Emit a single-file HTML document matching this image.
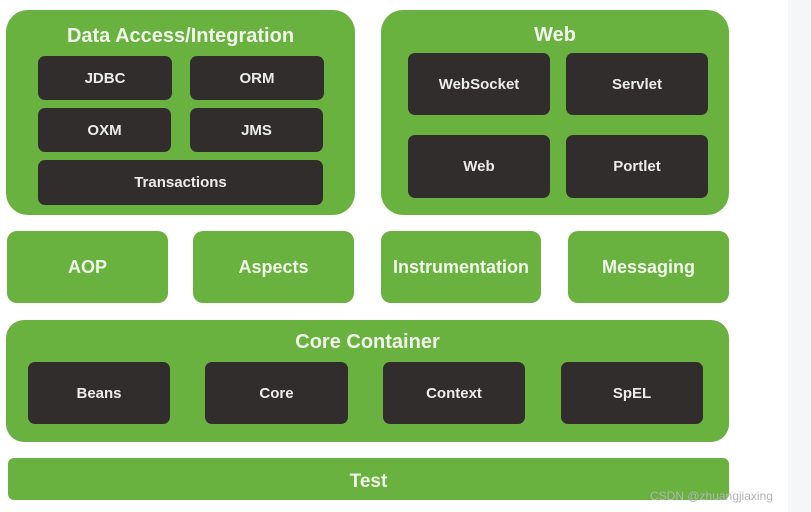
<!DOCTYPE html>
<html><head><style>
body{margin:0;width:811px;height:512px;background:#fff;position:relative;overflow:hidden;font-family:"Liberation Sans",sans-serif;font-weight:bold}
.g{position:absolute;background:#69b23f;border-radius:16px;color:#f0f6ea;display:flex;align-items:center;justify-content:center;font-size:18px}
.d{position:absolute;background:#322d2d;border-radius:7px;color:#ececec;display:flex;align-items:center;justify-content:center;font-size:15px}
.t{position:absolute;color:#f0f6ea;font-size:20px;text-align:center}
</style></head><body>
<div style="position:absolute;left:788px;top:0;width:23px;height:512px;background:#f5f6f8"></div>
<div class="g" style="left:6px;top:10px;width:349px;height:205px;border-radius:22px"></div>
<div class="t" style="left:6px;top:25px;width:349px">Data Access/Integration</div>
<div class="d" style="left:38px;top:56px;width:134px;height:44px">JDBC</div>
<div class="d" style="left:190px;top:56px;width:134px;height:44px">ORM</div>
<div class="d" style="left:38px;top:108px;width:133px;height:44px">OXM</div>
<div class="d" style="left:190px;top:108px;width:133px;height:44px">JMS</div>
<div class="d" style="left:38px;top:160px;width:285px;height:45px">Transactions</div>
<div class="g" style="left:381px;top:10px;width:348px;height:205px;border-radius:22px"></div>
<div class="t" style="left:381px;top:24px;width:348px">Web</div>
<div class="d" style="left:408px;top:53px;width:142px;height:62px">WebSocket</div>
<div class="d" style="left:566px;top:53px;width:142px;height:62px">Servlet</div>
<div class="d" style="left:408px;top:135px;width:142px;height:63px">Web</div>
<div class="d" style="left:566px;top:135px;width:142px;height:63px">Portlet</div>
<div class="g" style="left:7px;top:231px;width:161px;height:72px;border-radius:10px">AOP</div>
<div class="g" style="left:193px;top:231px;width:161px;height:72px;border-radius:10px">Aspects</div>
<div class="g" style="left:381px;top:231px;width:160px;height:72px;border-radius:10px">Instrumentation</div>
<div class="g" style="left:568px;top:231px;width:161px;height:72px;border-radius:10px">Messaging</div>
<div class="g" style="left:6px;top:320px;width:723px;height:122px;border-radius:18px"></div>
<div class="t" style="left:6px;top:331px;width:723px">Core Container</div>
<div class="d" style="left:28px;top:362px;width:142px;height:62px">Beans</div>
<div class="d" style="left:205px;top:362px;width:143px;height:62px">Core</div>
<div class="d" style="left:383px;top:362px;width:142px;height:62px">Context</div>
<div class="d" style="left:561px;top:362px;width:142px;height:62px">SpEL</div>
<div class="g" style="left:8px;top:458px;width:721px;height:42px;border-radius:6px;font-size:19px;padding-top:6px;box-sizing:border-box">Test</div>
<div style="position:absolute;left:650px;top:489px;font-size:12px;font-weight:normal;color:#b4b4b4">CSDN @zhuangjiaxing</div>
</body></html>
